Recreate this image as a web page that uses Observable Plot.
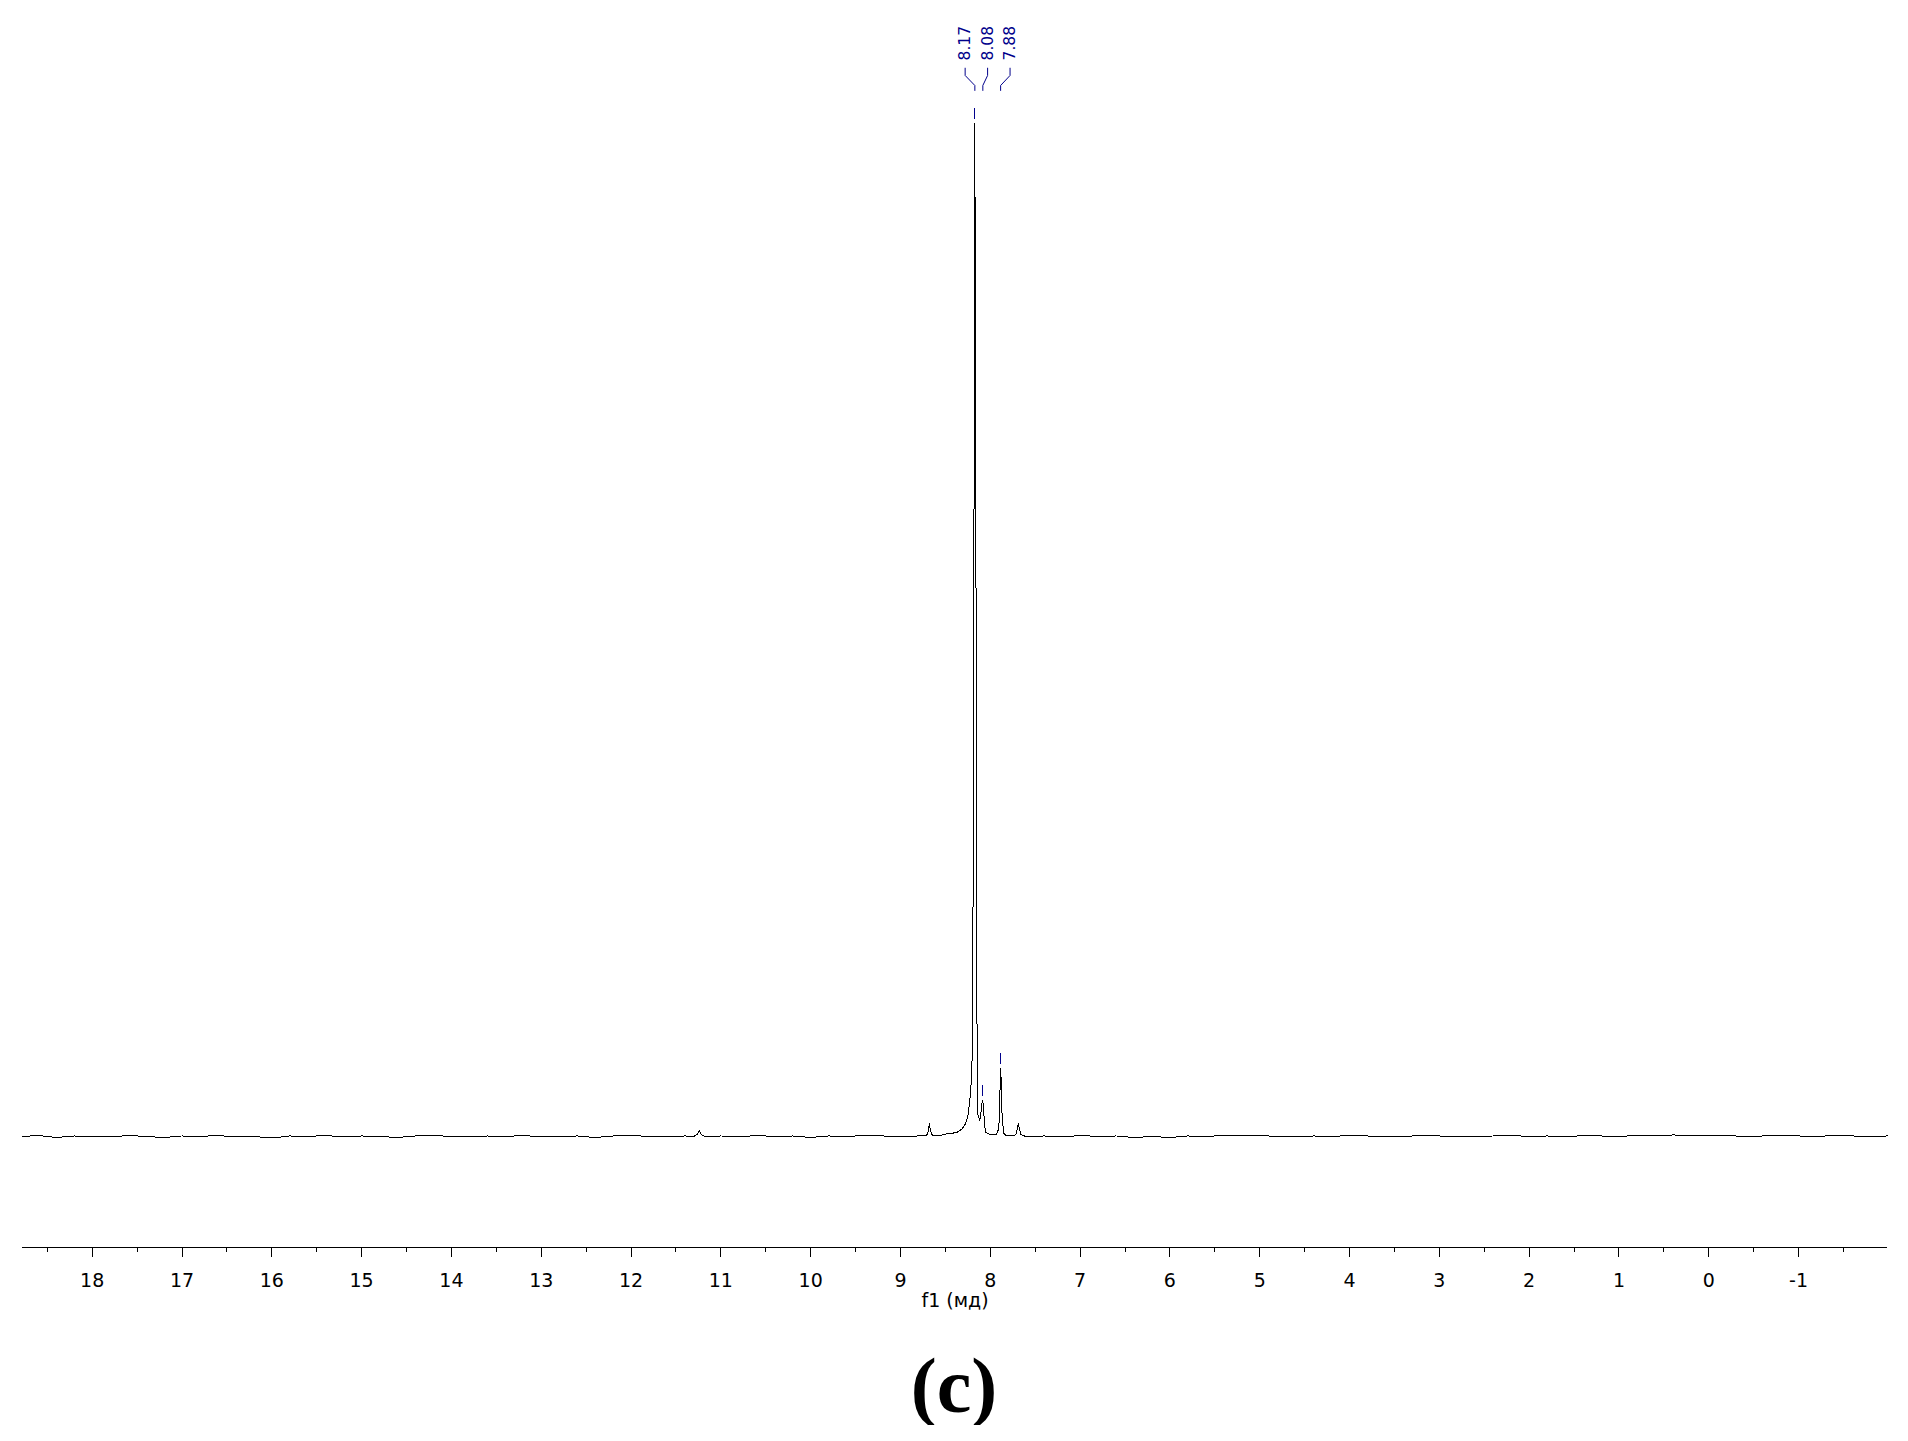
<!DOCTYPE html>
<html>
<head>
<meta charset="utf-8">
<script src="https://cdn.jsdelivr.net/npm/d3@7"></script>
<script src="https://cdn.jsdelivr.net/npm/@observablehq/plot@0.6"></script>
<style>
  html, body { margin: 0; padding: 0; background: #ffffff; }
  #chart svg { display: block; }
  #caption { font-family: "Liberation Serif", "Times New Roman", serif; font-weight: bold; font-size: 78px; line-height: 1; text-align: center; margin-top: 17px; color: #000; }
</style>
</head>
<body>
<div id="chart"></div>
<div id="caption">(c)</div>
<script>
// ---- spectrum (chemical shift, ppm) and intensity (main peak = 100) ----
const shiftPpm = [
  18.78, 18.6, 18.4, 18.2, 18.0, 17.8, 17.6, 17.4, 17.2, 17.0,
  16.8, 16.6, 16.4, 16.2, 16.0, 15.8, 15.6, 15.4, 15.2, 15.0,
  14.8, 14.6, 14.4, 14.2, 14.0, 13.8, 13.6, 13.4, 13.2, 13.0,
  12.8, 12.6, 12.4, 12.2, 12.0, 11.8, 11.6, 11.4, 11.3, 11.26,
  11.24, 11.22, 11.18, 11.0, 10.8, 10.6, 10.4, 10.2, 10.0, 9.8,
  9.6, 9.4, 9.2, 9.0, 8.8, 8.72, 8.711, 8.692, 8.678, 8.666,
  8.645, 8.6, 8.555, 8.48, 8.432, 8.369, 8.313, 8.276, 8.251, 8.228,
  8.213, 8.198, 8.191, 8.184, 8.179, 8.176, 8.172, 8.169, 8.165, 8.157,
  8.152, 8.147, 8.145, 8.132, 8.117, 8.104, 8.093, 8.083, 8.076, 8.065,
  8.054, 8.02, 7.976, 7.931, 7.905, 7.897, 7.885, 7.874, 7.869, 7.85,
  7.82, 7.753, 7.714, 7.697, 7.686, 7.675, 7.658, 7.608, 7.4, 7.2,
  7.0, 6.8, 6.6, 6.4, 6.2, 6.0, 5.8, 5.6, 5.4, 5.2,
  5.0, 4.8, 4.6, 4.4, 4.2, 4.0, 3.8, 3.6, 3.4, 3.2,
  3.0, 2.8, 2.6, 2.4, 2.2, 2.0, 1.8, 1.6, 1.4, 1.2,
  1.0, 0.8, 0.6, 0.4, 0.2, 0.0, -0.2, -0.4, -0.6, -0.8,
  -1.0, -1.2, -1.4, -1.6, -1.8, -1.99
];
const intensity = [
  0.0, 0.1, -0.1, 0.05, 0.0, -0.05, 0.1, 0.0, -0.1, 0.05,
  0.0, 0.1, -0.05, 0.0, -0.15, 0.05, 0.0, 0.1, -0.05, 0.05,
  0.0, -0.1, 0.05, 0.1, 0.0, -0.05, 0.05, 0.0, 0.1, -0.05,
  0.0, 0.05, -0.1, 0.05, 0.1, 0.0, -0.05, 0.05, 0.0, 0.25,
  0.6, 0.2, 0.0, 0.05, -0.05, 0.1, 0.0, 0.05, -0.1, 0.05,
  0.0, 0.1, 0.05, 0.0, 0.05, 0.05, 0.05, 0.5, 1.3, 0.55,
  0.1, 0.1, 0.1, 0.27, 0.3, 0.42, 0.76, 1.25, 1.91, 3.55,
  5.23, 8.79, 26.06, 47.78, 72.65, 87.76, 100, 87.76, 72.36, 47.98,
  27.74, 7.5, 2.4, 2.0, 1.58, 2.37, 3.26, 3.55, 2.76, 1.38,
  0.42, 0.27, 0.15, 0.2, 0.79, 2.89, 6.71, 4.54, 2.07, 0.3,
  0.05, 0.05, 0.2, 0.9, 1.28, 0.69, 0.2, 0.0, 0.05, -0.05,
  0.1, 0.0, 0.05, -0.1, 0.0, -0.1, 0.05, 0.0, 0.1, 0.05,
  0.1, 0.0, -0.05, 0.05, 0.0, 0.1, 0.05, -0.05, 0.0, 0.1,
  0.05, 0.0, -0.05, 0.05, 0.1, 0.0, 0.05, -0.05, 0.1, 0.05,
  0.0, 0.1, 0.05, 0.15, 0.1, 0.05, 0.1, 0.0, 0.05, 0.1,
  0.05, 0.0, 0.1, 0.05, 0.0, 0.05
];

// ---- picked peaks ----
const peakPpm = [8.172, 8.083, 7.885];
const peakIntensity = [100, 3.55, 6.71];
const peakLabels = ["8.17", "8.08", "7.88"];

// ---- axis ticks ----
const majorTicks = [18, 17, 16, 15, 14, 13, 12, 11, 10, 9, 8, 7, 6, 5, 4, 3, 2, 1, 0, -1];
const minorTicks = [18.5, 17.5, 16.5, 15.5, 14.5, 13.5, 12.5, 11.5, 10.5, 9.5, 8.5, 7.5, 6.5, 5.5, 4.5, 3.5, 2.5, 1.5, 0.5, -0.5, -1.5];
const axisLabel = "f1 (мд)";

// ---- layout constants ----
const xDomain = [18.776, -1.99];
const yMin = -10.96, yMax = 112.14;
const navy = "#00008b";

const spectrum = shiftPpm.map((p, i) => ({ppm: p, value: intensity[i]}));

// label spreading (in ppm) around the central label
const labelSpacing = 0.25, labelCenter = 8.03;
const peaks = peakPpm.map((p, i) => ({
  ppm: p,
  value: peakIntensity[i],
  label: peakLabels[i],
  labelPos: labelCenter + (1 - i) * labelSpacing
}));

// connector levels (in intensity units, above the plotted area of the peaks)
const textBase = 106.22, lvl1 = 105.46, lvl2 = 104.74, lvl3 = 103.75, lvl4 = 103.26;
const connectors = peaks.flatMap(d => [
  {label: d.label, x: d.labelPos, y: lvl1},
  {label: d.label, x: d.labelPos, y: lvl2},
  {label: d.label, x: d.ppm, y: lvl3},
  {label: d.label, x: d.ppm, y: lvl4}
]);

const chart = Plot.plot({
  width: 1908,
  height: 1330,
  marginLeft: 22,
  marginRight: 21,
  marginTop: 0,
  marginBottom: 83,
  style: {fontFamily: "DejaVu Sans, Verdana, sans-serif", fontSize: "19px", background: "#ffffff", color: "#000"},
  x: {domain: xDomain, axis: null},
  y: {domain: [yMin, yMax], axis: null},
  marks: [
    Plot.ruleY([yMin], {stroke: "#000", strokeWidth: 1, shapeRendering: "crispEdges"}),
    Plot.axisX({ticks: majorTicks, tickSize: 10, tickPadding: 16, tickFormat: d => `${d}`, label: null, anchor: "bottom", shapeRendering: "crispEdges"}),
    Plot.axisX({ticks: minorTicks, tickSize: 5, text: null, label: null, anchor: "bottom", shapeRendering: "crispEdges"}),
    Plot.text([axisLabel], {text: d => d, frameAnchor: "bottom", dy: 59, fontSize: 19, fill: "#000"}),
    Plot.line(spectrum, {x: "ppm", y: "value", stroke: "#000", strokeWidth: 1, shapeRendering: "crispEdges"}),
    Plot.ruleX(peaks, {x: "ppm", y1: d => d.value + 0.35, y2: d => d.value + 1.5, stroke: navy, strokeWidth: 1, shapeRendering: "crispEdges"}),
    Plot.line(connectors, {x: "x", y: "y", z: "label", stroke: navy, strokeWidth: 1, strokeLinejoin: "miter"}),
    Plot.text(peaks, {x: "labelPos", y: () => textBase, text: "label", rotate: -90, textAnchor: "start", fill: navy, fontSize: 15.5})
  ]
});
document.getElementById("chart").appendChild(chart);
</script>
</body>
</html>
